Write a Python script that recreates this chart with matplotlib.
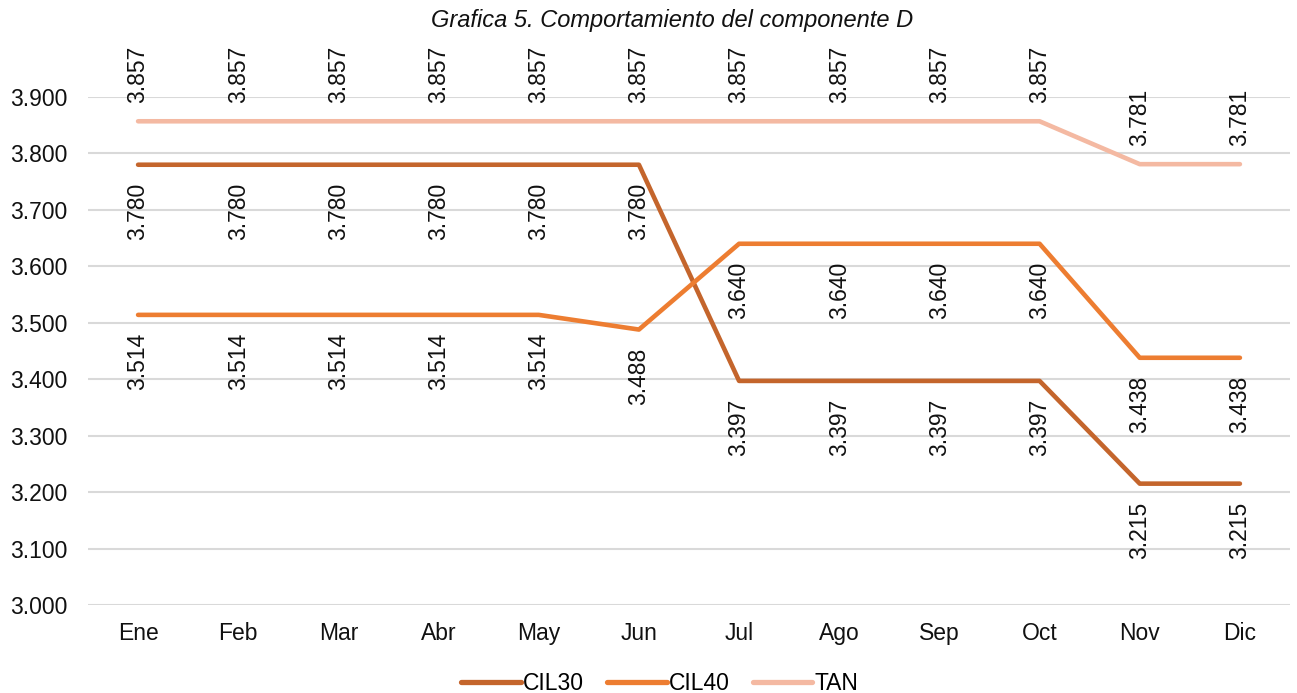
import matplotlib
matplotlib.use("Agg")
import matplotlib.pyplot as plt
from matplotlib.lines import Line2D

months = ["Ene", "Feb", "Mar", "Abr", "May", "Jun", "Jul", "Ago", "Sep", "Oct", "Nov", "Dic"]
cil30 = [3.780, 3.780, 3.780, 3.780, 3.780, 3.780, 3.397, 3.397, 3.397, 3.397, 3.215, 3.215]
cil40 = [3.514, 3.514, 3.514, 3.514, 3.514, 3.488, 3.640, 3.640, 3.640, 3.640, 3.438, 3.438]
tan = [3.857, 3.857, 3.857, 3.857, 3.857, 3.857, 3.857, 3.857, 3.857, 3.857, 3.781, 3.781]
yticks = [3.0, 3.1, 3.2, 3.3, 3.4, 3.5, 3.6, 3.7, 3.8, 3.9]

plt.rcParams['font.family'] = ['Liberation Sans', 'DejaVu Sans']

c30 = "#C4652C"
c40 = "#ED7D31"
ctan = "#F4B9A2"

fig = plt.figure(figsize=(12.97, 6.93), dpi=100)
ax = fig.add_axes([88/1297, 88/693, (1290-88)/1297, (605-97)/693])

x = list(range(len(months)))
lw = 3.3
ax.plot(x, cil30, color=c30, lw=lw, solid_capstyle='round', zorder=3)
ax.plot(x, cil40, color=c40, lw=lw, solid_capstyle='round', zorder=3)
ax.plot(x, tan, color=ctan, lw=lw, solid_capstyle='round', zorder=3)

fs = 16.5
for xi, v in zip(x, tan):
    ax.annotate(f"{v:.3f}", (xi, v), xytext=(0, 13), textcoords='offset points',
                rotation=90, ha='center', va='bottom', fontsize=fs, color='#111111', annotation_clip=False)
for series in (cil30, cil40):
    for xi, v in zip(x, series):
        ax.annotate(f"{v:.3f}", (xi, v), xytext=(0, -13), textcoords='offset points',
                    rotation=90, ha='center', va='top', fontsize=fs, color='#111111', annotation_clip=False)

ax.set_xlim(-0.5, 11.5)
ax.set_ylim(3.0, 3.9)
ax.set_yticks(yticks)
ax.set_yticklabels([f"{t:.3f}" for t in yticks])
ax.set_xticks(x)
ax.set_xticklabels(months)
ax.tick_params(axis='both', length=0, labelsize=fs, colors='#111111')
ax.tick_params(axis='y', pad=15)
ax.tick_params(axis='x', pad=12)
ax.yaxis.grid(True, color='#D9D9D9', lw=1.5, zorder=0)
ax.set_axisbelow(True)
for s in ax.spines.values():
    s.set_visible(False)

fig.text(672/1297, 1 - 20/693, "Grafica 5. Comportamiento del componente D", ha='center', va='center',
         fontsize=17, style='italic', color='#111111')

handles = [Line2D([], [], color=c, lw=lw + 0.5, solid_capstyle='round') for c in (c30, c40, ctan)]
fig.legend(handles, ["CIL30", "CIL40", "TAN"], loc='center', bbox_to_anchor=(660/1297, 1 - 684/693),
           ncol=3, frameon=False, fontsize=fs, handlelength=2.6, handletextpad=0.1, columnspacing=1.0)

fig.savefig("out.png", dpi=100)
